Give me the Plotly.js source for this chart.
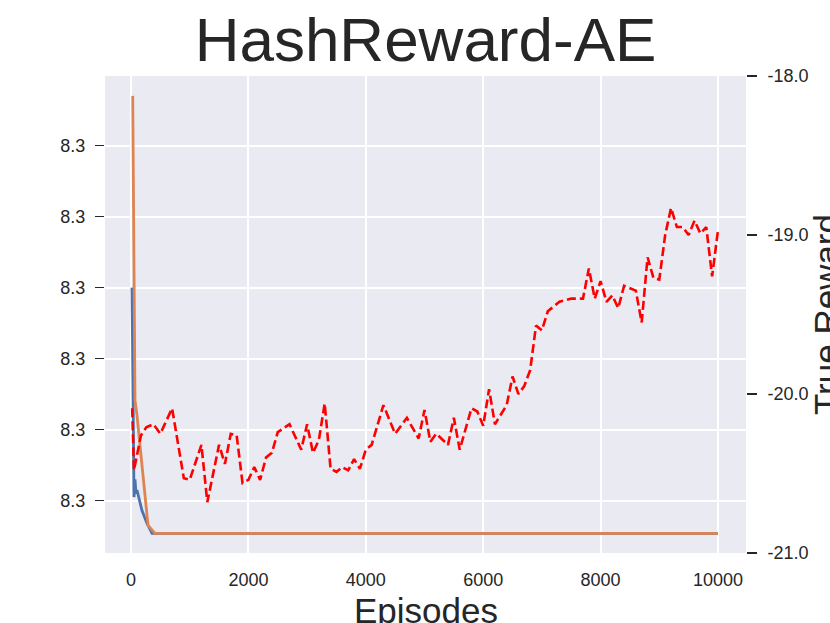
<!DOCTYPE html>
<html>
<head>
<meta charset="utf-8">
<script src="https://cdn.plot.ly/plotly-3.0.1.min.js"></script>
<style>
  html, body { margin: 0; padding: 0; background: #ffffff; }
  #chart { width: 830px; height: 623px; }
</style>
</head>
<body>
<div id="chart"></div>
<script>
// loss curves (left axis) - values all round to 8.3
const episodesBlue = [17, 34, 51, 68, 85, 102, 187, 273, 358, 10000];
const lossBlue = [8.3000030, 8.3000015, 8.30000005, 8.3000003, 8.3000001, 8.30000015,
                  8.29999986, 8.29999968, 8.29999954, 8.29999954];

const episodesOrange = [29, 68, 100, 290, 410, 10000];
const lossOrange = [8.3000057, 8.30000141, 8.30000122, 8.29999965, 8.29999954, 8.29999954];

// true reward (right axis)
const episodesReward = [20, 50, 170, 260, 380, 500, 700, 900, 1000, 1200, 1300, 1500, 1600,
  1700, 1800, 1900, 2000, 2100, 2200, 2300, 2400, 2500, 2700, 2900, 3000, 3100, 3200, 3300,
  3400, 3500, 3600, 3700, 3800, 3900, 4000, 4100, 4300, 4500, 4700, 4900, 5000, 5100, 5200,
  5400, 5500, 5600, 5800, 5900, 6000, 6100, 6200, 6400, 6500, 6600, 6700, 6800, 6900, 7000,
  7100, 7300, 7500, 7700, 7800, 7900, 8000, 8100, 8200, 8300, 8400, 8600, 8700, 8800, 8900,
  9000, 9100, 9200, 9300, 9400, 9500, 9600, 9700, 9800, 9900, 10000];
const trueReward = [-20.09, -20.48, -20.26, -20.21, -20.19, -20.25, -20.09, -20.53, -20.54,
  -20.32, -20.68, -20.32, -20.44, -20.25, -20.26, -20.56, -20.54, -20.46, -20.54, -20.40,
  -20.37, -20.24, -20.19, -20.35, -20.19, -20.37, -20.29, -20.06, -20.47, -20.49, -20.46,
  -20.48, -20.41, -20.47, -20.35, -20.32, -20.07, -20.25, -20.15, -20.28, -20.10, -20.30,
  -20.25, -20.32, -20.15, -20.35, -20.09, -20.11, -20.20, -19.97, -20.19, -20.07, -19.89,
  -20.00, -19.95, -19.85, -19.57, -19.60, -19.48, -19.42, -19.40, -19.40, -19.21, -19.40,
  -19.29, -19.42, -19.38, -19.46, -19.32, -19.35, -19.55, -19.14, -19.27, -19.28, -19.00,
  -18.83, -18.95, -18.95, -19.00, -18.91, -18.99, -18.95, -19.26, -18.97];

// ticks
const episodeTicks = [0, 2000, 4000, 6000, 8000, 10000];
const lossTicks = [8.3, 8.300001, 8.300002, 8.300003, 8.300004, 8.300005];
const rewardTicks = [-18, -19, -20, -21];
const rewardTickText = ['-18.0', '-19.0', '-20.0', '-21.0'];

const ink = '#262626';
const font = 'Liberation Sans, Arial, Helvetica, sans-serif';

const traces = [
  {
    x: episodesBlue, y: lossBlue, type: 'scatter', mode: 'lines',
    line: {color: '#4C72B0', width: 2.8}, yaxis: 'y'
  },
  {
    x: episodesOrange, y: lossOrange, type: 'scatter', mode: 'lines',
    line: {color: '#DD8452', width: 2.8}, yaxis: 'y'
  },
  {
    x: episodesReward, y: trueReward, type: 'scatter', mode: 'lines',
    line: {color: '#FF0000', width: 2.6, dash: '9px,4px'}, yaxis: 'y2'
  }
];

// axis titles sit partly outside the figure, so they are annotations
const layout = {
  width: 830,
  height: 623,
  margin: {l: 105, r: 84, t: 76, b: 70},
  paper_bgcolor: '#ffffff',
  plot_bgcolor: '#EAEAF2',
  showlegend: false,
  font: {family: font, color: ink, size: 18},
  title: {
    text: 'HashReward-AE',
    font: {family: font, size: 62, color: ink},
    x: 0.5, xref: 'paper', xanchor: 'center',
    y: 0.937, yref: 'container', yanchor: 'middle'
  },
  xaxis: {
    range: [-443, 10477],
    tickvals: episodeTicks,
    tickformat: 'd',
    ticks: '',
    showgrid: true, gridcolor: '#ffffff', gridwidth: 2,
    zeroline: false, showline: false,
    tickfont: {size: 18, color: ink},
    ticklabelstandoff: 14
  },
  yaxis: {
    range: [8.299999263, 8.30000598],
    tickvals: lossTicks,
    tickformat: '.1f',
    ticks: 'outside', ticklen: 9, tickwidth: 1.5, tickcolor: ink,
    showgrid: true, gridcolor: '#ffffff', gridwidth: 2,
    zeroline: false, showline: false,
    tickfont: {size: 18, color: ink},
    ticklabelstandoff: 6
  },
  yaxis2: {
    overlaying: 'y', side: 'right',
    range: [-21, -18],
    tickvals: rewardTicks, ticktext: rewardTickText,
    ticks: 'outside', ticklen: 10, tickwidth: 1.5, tickcolor: ink,
    showgrid: false, zeroline: false, showline: false,
    tickfont: {size: 18, color: ink},
    ticklabelstandoff: 7
  },
  annotations: [
    {
      text: 'Episodes', showarrow: false,
      xref: 'paper', yref: 'paper', x: 0.5, y: 0,
      xanchor: 'center', yanchor: 'top', yshift: -36,
      font: {size: 35, color: ink}
    },
    {
      text: 'True Reward', showarrow: false, textangle: -90,
      xref: 'paper', yref: 'paper', x: 1, y: 0.5,
      xanchor: 'left', yanchor: 'middle', xshift: 59,
      font: {size: 35, color: ink}
    }
  ]
};

Plotly.newPlot('chart', traces, layout, {staticPlot: true, displayModeBar: false});
</script>
</body>
</html>
